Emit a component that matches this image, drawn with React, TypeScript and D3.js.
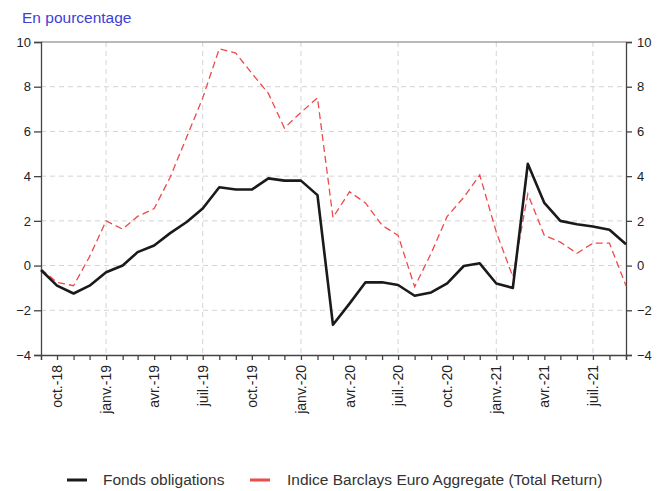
import React, { useEffect, useRef } from 'react';
import * as d3 from 'd3';

// monthly values, sep-18 .. sep-21
const startMonth = new Date(2018, 8, 1);
const fonds = [
  -0.2, -0.9, -1.25, -0.9, -0.3, 0.0, 0.6, 0.9, 1.45, 1.95, 2.55, 3.5, 3.4, 3.4, 3.9, 3.8, 3.8,
  3.15, -2.65, -1.7, -0.75, -0.75, -0.87, -1.35, -1.2, -0.8, -0.02, 0.1, -0.8, -1.0, 4.55, 2.8,
  2.0, 1.85, 1.75, 1.6, 0.95,
];
const indice = [
  -0.15, -0.75, -0.9, 0.4, 2.0, 1.63, 2.2, 2.55, 3.95, 5.75, 7.5, 9.7, 9.5, 8.6, 7.7, 6.15, 6.85,
  7.5, 2.15, 3.3, 2.8, 1.8, 1.35, -0.95, 0.55, 2.2, 3.05, 4.05, 1.5, -0.5, 3.2, 1.35, 1.05, 0.55,
  1.0, 1.0, -0.9,
];
const monthNames = ['janv.', 'févr.', 'mars', 'avr.', 'mai', 'juin', 'juil.', 'août', 'sept.', 'oct.', 'nov.', 'déc.'];
const yTicks = [-4, -2, 0, 2, 4, 6, 8, 10];
const seriesNames = ['Fonds obligations', 'Indice Barclays Euro Aggregate (Total Return)'];

const App: React.FC = () => {
  const ref = useRef<SVGSVGElement | null>(null);

  useEffect(() => {
    if (!ref.current) return;
    const svg = d3.select(ref.current);
    svg.selectAll('*').remove();

    const font = 'Liberation Sans, Arial, sans-serif';
    const margin = { top: 42, left: 41, right: 32, bottom: 136 };
    const W = 658;
    const H = 491;

    const dates = fonds.map((_, i) => d3.timeMonth.offset(startMonth, i));
    const x = d3
      .scaleTime()
      .domain([dates[0], dates[dates.length - 1]])
      .range([margin.left, W - margin.right]);
    const y = d3.scaleLinear().domain([-4, 10]).range([H - margin.bottom, margin.top]);

    const x0 = x.range()[0];
    const x1 = x.range()[1];

    // horizontal grid
    svg
      .append('g')
      .selectAll('line')
      .data(yTicks.filter((t) => t > -4 && t < 10))
      .enter()
      .append('line')
      .attr('x1', x0)
      .attr('x2', x1)
      .attr('y1', (d) => y(d))
      .attr('y2', (d) => y(d))
      .attr('stroke', '#d4d4d4')
      .attr('stroke-dasharray', '5,4');

    // vertical grid at janv / juil
    const gridMonths = dates.filter((d) => d.getMonth() === 0 || d.getMonth() === 6);
    svg
      .append('g')
      .selectAll('line')
      .data(gridMonths)
      .enter()
      .append('line')
      .attr('x1', (d) => x(d))
      .attr('x2', (d) => x(d))
      .attr('y1', y(10))
      .attr('y2', y(-4))
      .attr('stroke', '#d4d4d4')
      .attr('stroke-dasharray', '5,4');

    // frame top line
    svg
      .append('line')
      .attr('x1', x0)
      .attr('x2', x1)
      .attr('y1', y(10))
      .attr('y2', y(10))
      .attr('stroke', '#777')
      .attr('stroke-width', 1.2);

    // axes
    const left = svg
      .append('g')
      .attr('transform', `translate(${x0},0)`)
      .call(d3.axisLeft(y).tickValues(yTicks).tickSize(7).tickPadding(3));
    const right = svg
      .append('g')
      .attr('transform', `translate(${x1},0)`)
      .call(d3.axisRight(y).tickValues(yTicks).tickSize(6).tickPadding(5));
    const bottom = svg
      .append('g')
      .attr('transform', `translate(0,${y(-4)})`)
      .call(
        d3
          .axisBottom(x)
          .tickValues(dates)
          .tickSize(5)
          .tickFormat(() => '')
      );

    [left, right, bottom].forEach((g) => {
      g.select('.domain').attr('stroke', '#444').attr('stroke-width', 1.3);
      g.selectAll('.tick line').attr('stroke', '#444').attr('stroke-width', 1.3);
      g.selectAll('text')
        .attr('font-family', font)
        .attr('font-size', 13)
        .attr('fill', '#222');
    });

    // rotated month labels
    const labelMonths = dates.filter((d) => d.getMonth() % 3 === 0);
    svg
      .append('g')
      .selectAll('text')
      .data(labelMonths)
      .enter()
      .append('text')
      .attr('transform', (d) => `translate(${x(d) + 5},${y(-4) + 10}) rotate(-90)`)
      .attr('text-anchor', 'end')
      .attr('font-family', font)
      .attr('font-size', 14)
      .attr('fill', '#222')
      .text((d) => `${monthNames[d.getMonth()]}-${String(d.getFullYear()).slice(2)}`);

    // lines
    const line = d3
      .line<number>()
      .x((_, i) => x(dates[i]))
      .y((d) => y(d));

    svg
      .append('path')
      .datum(indice)
      .attr('d', line)
      .attr('fill', 'none')
      .attr('stroke', '#ee4a4a')
      .attr('stroke-width', 1.3)
      .attr('stroke-dasharray', '7,4');

    svg
      .append('path')
      .datum(fonds)
      .attr('d', line)
      .attr('fill', 'none')
      .attr('stroke', '#1a1a1a')
      .attr('stroke-width', 2.6)
      .attr('stroke-linejoin', 'round');

    // title
    svg
      .append('text')
      .attr('x', 22)
      .attr('y', 23)
      .attr('font-family', font)
      .attr('font-size', 15.5)
      .attr('fill', '#4040d8')
      .text('En pourcentage');

    // legend
    const legend = [
      { name: seriesNames[0], color: '#1a1a1a', lx: 67, tx: 103 },
      { name: seriesNames[1], color: '#ee4a4a', lx: 250, tx: 287 },
    ];
    const ly = 480;
    legend.forEach((l) => {
      svg
        .append('line')
        .attr('x1', l.lx)
        .attr('x2', l.lx + 20)
        .attr('y1', ly)
        .attr('y2', ly)
        .attr('stroke', l.color)
        .attr('stroke-width', 3);
      svg
        .append('text')
        .attr('x', l.tx)
        .attr('y', ly + 5)
        .attr('font-family', font)
        .attr('font-size', 15.5)
        .attr('fill', '#333')
        .text(l.name);
    });
  }, []);

  return (
    <div style={{ position: 'absolute', left: 0, top: 0 }}>
      <svg ref={ref} width={658} height={491} style={{ display: 'block', background: '#fff' }}></svg>
    </div>
  );
};

export default App;
